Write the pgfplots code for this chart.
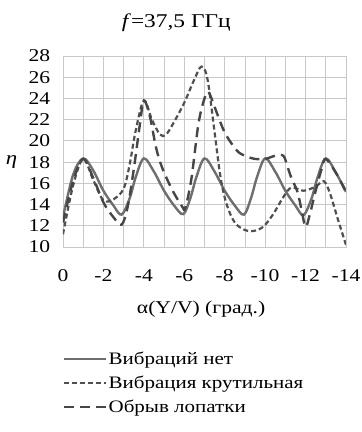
\documentclass[border=0pt]{standalone}
\usepackage{pgfplots}
\pgfplotsset{compat=1.18}
\usepackage{fontspec}
\setmainfont{Liberation Serif}[FakeStretch=1.2]
\definecolor{solidgray}{HTML}{6E6E6E}
\definecolor{dashgray}{HTML}{505050}
\definecolor{longgray}{HTML}{464646}
\definecolor{gridgray}{HTML}{C8C8C8}
\begin{document}
\begin{tikzpicture}
\path[use as bounding box] (-63pt,-185pt) rectangle (299pt,247pt);
\begin{axis}[
  at={(0pt,0pt)}, anchor=south west,
  scale only axis, width=283pt, height=191pt,
  xmin=-14, xmax=0, x dir=reverse,
  ymin=10, ymax=28,
  xtick={0,-2,...,-14},
  ytick={10,12,...,28},
  minor x tick num=1,
  grid=both,
  major grid style={gridgray, line width=0.8pt},
  minor grid style={gridgray, line width=0.8pt},
  axis line style={gridgray, line width=0.8pt},
  major tick length=0pt, minor tick length=0pt,
  /pgf/number format/assume math mode=true,
  tick label style={font=\fontsize{18}{20}\selectfont},
  yticklabel style={xshift=-38pt, anchor=west},
  xticklabel style={yshift=-19pt},
  xlabel={α(Y/V) (град.)},
  every axis x label/.style={at={(axis description cs:0.488,-0.325)}, anchor=center, font=\fontsize{18}{20}\selectfont},
  ylabel={\itshape η},
  every axis y label/.style={at={(axis description cs:-0.182,0.445)}, anchor=center, font=\fontsize{19}{20}\selectfont},
  title={\textit{f}=37,5 ГГц},
  title style={font=\fontsize{19.5}{20}\selectfont, at={(axis description cs:0.4,1)}, anchor=base, yshift=23pt},
  legend style={at={(axis description cs:0,0)}, anchor=north west, yshift=-104pt, draw=none, fill=none,
    font=\fontsize{17.5}{20}\selectfont, row sep=8pt, inner sep=0pt,
    nodes={inner sep=1pt}},
  legend cell align=left,
  legend image code/.code={\draw[#1] (0pt,0pt) -- (42pt,0pt);},
]
\addplot[solidgray, line width=2.4pt, smooth, tension=0.55] coordinates {
(0,12.8) (-0.5,16.8) (-1,18.35) (-1.5,17.2) (-2,15.3) (-2.5,13.9) (-2.9,13.05) (-3.3,14.6) (-3.6,16.6)
(-4,18.35) (-4.5,17.1) (-5,15.3) (-5.5,13.9) (-5.95,13.1) (-6.3,14.6) (-6.6,16.6)
(-7,18.35) (-7.5,17.1) (-8,15.3) (-8.5,13.9) (-8.95,13.05) (-9.3,14.6) (-9.6,16.6)
(-10,18.35) (-10.5,17.1) (-11,15.3) (-11.5,13.9) (-11.9,13.0) (-12.3,14.6) (-12.6,16.6)
(-13,18.35) (-13.5,17.0) (-14,15.2)
};
\addlegendentry{Вибраций нет}
\addplot[dashgray, line width=2.2pt, dash pattern=on 5pt off 3pt, smooth, tension=0.55] coordinates {
(0,11.2) (-0.5,15.8) (-1,18.3) (-1.5,16.3) (-2,14.4) (-2.5,14.5) (-3,15.5) (-3.3,17.8) (-3.6,21.0)
(-4,23.8) (-4.4,22.0) (-4.8,20.6) (-5.1,20.6) (-5.5,21.8) (-6,23.6) (-6.5,25.8) (-6.85,27.0)
(-7.15,25.8) (-7.5,20.8) (-7.8,16.5) (-8.1,14.0) (-8.5,12.3) (-9,11.6) (-9.4,11.5) (-9.9,11.9)
(-10.4,13.1) (-10.9,14.7) (-11.3,15.6) (-11.9,15.3) (-12.5,15.7) (-12.9,16.2) (-13.2,15.1)
(-13.6,12.6) (-14,10.2)
};
\addlegendentry{Вибрация крутильная}
\addplot[longgray, line width=2.4pt, dash pattern=on 10pt off 6pt, smooth, tension=0.55] coordinates {
(0,12.3) (-0.5,16.2) (-1,18.3) (-1.5,16.5) (-2,14.2) (-2.5,12.8) (-2.9,12.1) (-3.2,13.8) (-3.5,17.3)
(-3.8,21.5) (-4,23.8) (-4.3,22.3) (-4.6,19.4) (-4.9,17.5) (-5.4,15.4) (-5.9,13.8) (-6.05,13.7)
(-6.35,16.4) (-6.7,21.6) (-7.0,24.0) (-7.2,24.6) (-7.5,23.2) (-8.0,20.8) (-8.6,19.1) (-9,18.6)
(-9.5,18.3) (-10,18.3) (-10.5,18.6) (-10.9,18.6) (-11.1,17.6) (-11.3,16.5) (-11.6,15.2)
(-11.8,13.5) (-12,11.9) (-12.2,13.0) (-12.5,15.3) (-12.8,17.4) (-13,18.3) (-13.5,17.0) (-14,15.2)
};
\addlegendentry{Обрыв лопатки}
\end{axis}
\end{tikzpicture}
\end{document}
